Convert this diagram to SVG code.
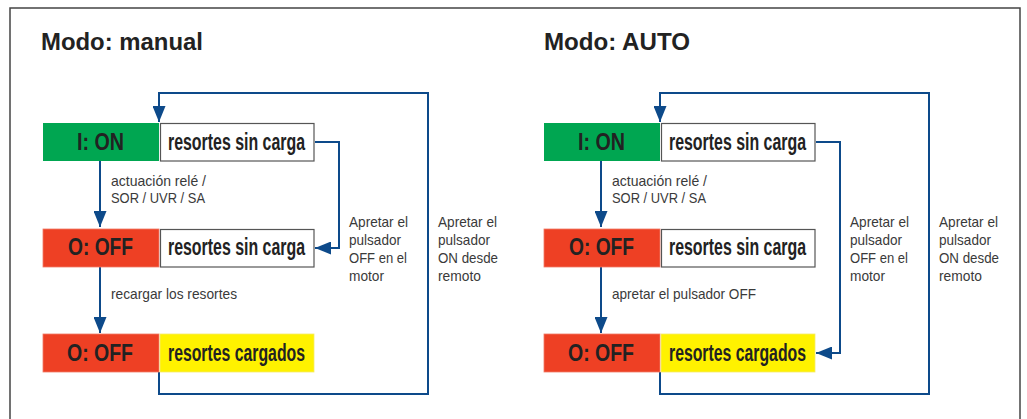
<svg xmlns="http://www.w3.org/2000/svg" width="1027" height="419" viewBox="0 0 1027 419">
<defs>
<marker id="ah" markerUnits="userSpaceOnUse" markerWidth="16" markerHeight="13" refX="16" refY="6.5" orient="auto" viewBox="0 0 16 13">
<path d="M0,0 L16,6.5 L0,13 z" fill="#0d4a8a"/>
</marker>
<style>
.title{font-family:"Liberation Sans",Arial,sans-serif;font-weight:bold;font-size:23.5px;fill:#222}
.bt{font-family:"Liberation Sans Narrow","Liberation Sans",Arial,sans-serif;font-weight:bold;font-size:23.5px;fill:#222}
.lb{font-family:"Liberation Sans Narrow","Liberation Sans",Arial,sans-serif;font-size:14.5px;fill:#3a3a3a}
.g{fill:#00a651}
.r{fill:#ee4024;stroke:#f07a66;stroke-width:0.8}
.w{fill:#fff;stroke:#555;stroke-width:1.2}
.y{fill:#fff200;stroke:#f4ea6a;stroke-width:0.8}
.c{fill:none;stroke:#0d4a8a;stroke-width:2}
</style>
</defs>
<rect x="0" y="0" width="1027" height="419" fill="#fff"/>
<rect x="10" y="8" width="1010" height="440" fill="none" stroke="#444" stroke-width="1.5"/>

<text class="title" x="41" y="50" textLength="162" lengthAdjust="spacingAndGlyphs">Modo: manual</text>
<text class="title" x="544" y="50" textLength="146" lengthAdjust="spacingAndGlyphs">Modo: AUTO</text>

<g id="connectors">
<path class="c" d="M100,161 V227" marker-end="url(#ah)"/>
<path class="c" d="M100,267 V333" marker-end="url(#ah)"/>
<path class="c" d="M315,142 H339 V248 H315" marker-end="url(#ah)"/>
<path class="c" d="M159,372 V394 H428 V93 H159 V122" marker-end="url(#ah)"/>
<path class="c" d="M601,161 V227" marker-end="url(#ah)"/>
<path class="c" d="M601,267 V333" marker-end="url(#ah)"/>
<path class="c" d="M816,142 H840 V353 H816" marker-end="url(#ah)"/>
<path class="c" d="M660,372 V394 H929 V93 H660 V122" marker-end="url(#ah)"/>
</g>

<g id="manual-on">
<rect class="g" x="43" y="123" width="116" height="38"/>
<rect class="w" x="160.5" y="123.5" width="153.5" height="37.5"/>
<text class="bt" x="77" y="150" textLength="47" lengthAdjust="spacingAndGlyphs">I: ON</text>
<text class="bt" x="168" y="150" textLength="137" lengthAdjust="spacingAndGlyphs">resortes sin carga</text>
</g>
<g id="manual-off">
<rect class="r" x="43" y="229" width="116" height="38"/>
<rect class="w" x="160.5" y="229.5" width="153.5" height="37.5"/>
<text class="bt" x="68" y="255" textLength="65" lengthAdjust="spacingAndGlyphs">O: OFF</text>
<text class="bt" x="168" y="255" textLength="137" lengthAdjust="spacingAndGlyphs">resortes sin carga</text>
</g>
<g id="manual-charged">
<rect class="r" x="43" y="334" width="116" height="38"/>
<rect class="y" x="160" y="334" width="154" height="38"/>
<text class="bt" x="67" y="361" textLength="66" lengthAdjust="spacingAndGlyphs">O: OFF</text>
<text class="bt" x="168" y="361" textLength="137" lengthAdjust="spacingAndGlyphs">resortes cargados</text>
</g>

<g id="auto-on">
<rect class="g" x="544" y="123" width="116" height="38"/>
<rect class="w" x="661.5" y="123.5" width="153.5" height="37.5"/>
<text class="bt" x="578" y="150" textLength="47" lengthAdjust="spacingAndGlyphs">I: ON</text>
<text class="bt" x="669" y="150" textLength="137" lengthAdjust="spacingAndGlyphs">resortes sin carga</text>
</g>
<g id="auto-off">
<rect class="r" x="544" y="229" width="116" height="38"/>
<rect class="w" x="661.5" y="229.5" width="153.5" height="37.5"/>
<text class="bt" x="569" y="255" textLength="65" lengthAdjust="spacingAndGlyphs">O: OFF</text>
<text class="bt" x="669" y="255" textLength="137" lengthAdjust="spacingAndGlyphs">resortes sin carga</text>
</g>
<g id="auto-charged">
<rect class="r" x="544" y="334" width="116" height="38"/>
<rect class="y" x="661" y="334" width="154" height="38"/>
<text class="bt" x="568" y="361" textLength="66" lengthAdjust="spacingAndGlyphs">O: OFF</text>
<text class="bt" x="669" y="361" textLength="137" lengthAdjust="spacingAndGlyphs">resortes cargados</text>
</g>

<g id="labels">
<text class="lb" x="111" y="186" textLength="95" lengthAdjust="spacingAndGlyphs">actuación relé /</text>
<text class="lb" x="111" y="203" textLength="94" lengthAdjust="spacingAndGlyphs">SOR / UVR / SA</text>
<text class="lb" x="111" y="299" textLength="126" lengthAdjust="spacingAndGlyphs">recargar los resortes</text>
<text class="lb" x="349" y="227" textLength="59" lengthAdjust="spacingAndGlyphs">Apretar el</text>
<text class="lb" x="349" y="245" textLength="52" lengthAdjust="spacingAndGlyphs">pulsador</text>
<text class="lb" x="349" y="263" textLength="58" lengthAdjust="spacingAndGlyphs">OFF en el</text>
<text class="lb" x="349" y="281" textLength="35" lengthAdjust="spacingAndGlyphs">motor</text>
<text class="lb" x="438" y="227" textLength="59" lengthAdjust="spacingAndGlyphs">Apretar el</text>
<text class="lb" x="438" y="245" textLength="52" lengthAdjust="spacingAndGlyphs">pulsador</text>
<text class="lb" x="438" y="263" textLength="60" lengthAdjust="spacingAndGlyphs">ON desde</text>
<text class="lb" x="438" y="281" textLength="43" lengthAdjust="spacingAndGlyphs">remoto</text>

<text class="lb" x="612" y="186" textLength="95" lengthAdjust="spacingAndGlyphs">actuación relé /</text>
<text class="lb" x="612" y="203" textLength="94" lengthAdjust="spacingAndGlyphs">SOR / UVR / SA</text>
<text class="lb" x="612" y="299" textLength="144" lengthAdjust="spacingAndGlyphs">apretar el pulsador OFF</text>
<text class="lb" x="850" y="227" textLength="59" lengthAdjust="spacingAndGlyphs">Apretar el</text>
<text class="lb" x="850" y="245" textLength="52" lengthAdjust="spacingAndGlyphs">pulsador</text>
<text class="lb" x="850" y="263" textLength="58" lengthAdjust="spacingAndGlyphs">OFF en el</text>
<text class="lb" x="850" y="281" textLength="35" lengthAdjust="spacingAndGlyphs">motor</text>
<text class="lb" x="939" y="227" textLength="59" lengthAdjust="spacingAndGlyphs">Apretar el</text>
<text class="lb" x="939" y="245" textLength="52" lengthAdjust="spacingAndGlyphs">pulsador</text>
<text class="lb" x="939" y="263" textLength="60" lengthAdjust="spacingAndGlyphs">ON desde</text>
<text class="lb" x="939" y="281" textLength="43" lengthAdjust="spacingAndGlyphs">remoto</text>
</g>
</svg>
